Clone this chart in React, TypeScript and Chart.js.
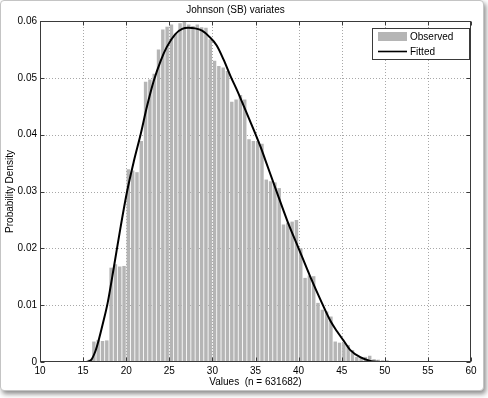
import React, { useEffect, useRef } from 'react';
import { Chart, registerables } from 'chart.js';

Chart.register(...registerables);

// ---- Data ----
const binCenters: number[] = [
  15.75, 16.25, 16.75, 17.25, 17.75, 18.25, 18.75, 19.25, 19.75, 20.25,
  20.75, 21.25, 21.75, 22.25, 22.75, 23.25, 23.75, 24.25, 24.75, 25.25,
  25.75, 26.25, 26.75, 27.25, 27.75, 28.25, 28.75, 29.25, 29.75, 30.25,
  30.75, 31.25, 31.75, 32.25, 32.75, 33.25, 33.75, 34.25, 34.75, 35.25,
  35.75, 36.25, 36.75, 37.25, 37.75, 38.25, 38.75, 39.25, 39.75, 40.25,
  40.75, 41.25, 41.75, 42.25, 42.75, 43.25, 43.75, 44.25, 44.75, 45.25,
  45.75, 46.25, 46.75, 47.25, 47.75, 48.25, 48.75, 49.25, 49.75, 50.25,
];

const observedDensity: number[] = [
  0.0004, 0.0036, 0.0039, 0.0037, 0.0038, 0.0166, 0.0172, 0.0168, 0.0169, 0.0339,
  0.0337, 0.0334, 0.0389, 0.0493, 0.0497, 0.0507, 0.0550, 0.0585, 0.0590, 0.0594,
  0.0577, 0.0596, 0.0600, 0.0594, 0.0591, 0.0594, 0.0589, 0.0588, 0.0568, 0.0530,
  0.0521, 0.0518, 0.0512, 0.0458, 0.0462, 0.0470, 0.0462, 0.0392, 0.0389, 0.0388,
  0.0384, 0.0321, 0.0318, 0.0316, 0.0306, 0.0242, 0.0245, 0.0247, 0.0250, 0.0200,
  0.0148, 0.0152, 0.0151, 0.0104, 0.0092, 0.0089, 0.0080, 0.0036, 0.0034, 0.0034,
  0.0030, 0.0021, 0.0009, 0.0009, 0.0009, 0.0011, 0.0005, 0.0004, 0.0003, 0.0003,
];

const fittedX: number[] = [
  15.3, 15.9, 16.4, 16.8, 17.3, 17.85, 18.55, 19.3, 20.1, 20.9,
  21.7, 22.4, 23.2, 24.0, 24.7, 25.7, 26.5, 27.2, 28.0, 28.8,
  29.6, 30.5, 31.3, 32.1, 32.8, 33.4, 34.2, 35.0, 35.6, 36.1,
  37.4, 38.7, 40.0, 41.3, 42.7, 43.7, 44.45, 45.2, 46.0, 47.2,
  48.3, 49.5,
];

const fittedY: number[] = [
  0, 0.0003, 0.0018, 0.0038, 0.0068, 0.0104, 0.0165, 0.0233, 0.0300, 0.0354,
  0.0402, 0.0449, 0.0495, 0.0530, 0.0554, 0.0577, 0.0586, 0.0588, 0.0587, 0.0583,
  0.0573, 0.0557, 0.0532, 0.0503, 0.0480, 0.0459, 0.0430, 0.0401, 0.0378, 0.0357,
  0.0302, 0.0248, 0.0200, 0.0152, 0.0104, 0.0072, 0.0054, 0.0038, 0.0021, 0.0008,
  0.0002, 0,
];

const xTicks: number[] = [10, 15, 20, 25, 30, 35, 40, 45, 50, 55, 60];
const yTicks: number[] = [0, 0.01, 0.02, 0.03, 0.04, 0.05, 0.06];

const titleText = 'Johnson (SB) variates';
const xTitle = 'Values  (n = 631682)';
const yTitle = 'Probability Density';
const legendLabels: string[] = ['Observed', 'Fitted'];

const FONT = '"Liberation Sans", Arial, Helvetica, sans-serif';
const BAR_COLOR = '#b5b5b5';

const matlabAxesPlugin = {
  id: 'matlabAxes',
  beforeDatasetsDraw(chart: any) {
    const { ctx, chartArea, scales } = chart;
    const { left, right, top, bottom } = chartArea;
    const xs = scales.x;
    const ys = scales.y;
    ctx.save();
    ctx.strokeStyle = '#a8a8a8';
    ctx.lineWidth = 1;
    ctx.setLineDash([1, 2]);
    xTicks.forEach((v, i) => {
      if (i === 0 || i === xTicks.length - 1) return;
      const px = Math.round(xs.getPixelForValue(v)) + 0.5;
      ctx.beginPath();
      ctx.moveTo(px, top);
      ctx.lineTo(px, bottom);
      ctx.stroke();
    });
    yTicks.forEach((v, i) => {
      if (i === 0 || i === yTicks.length - 1) return;
      const py = Math.round(ys.getPixelForValue(v)) + 0.5;
      ctx.beginPath();
      ctx.moveTo(left, py);
      ctx.lineTo(right, py);
      ctx.stroke();
    });
    ctx.restore();
  },
  afterDraw(chart: any) {
    const { ctx, chartArea, scales } = chart;
    const xs = scales.x;
    const ys = scales.y;
    const L = Math.round(chartArea.left) + 0.5;
    const R = Math.round(chartArea.right) - 0.5;
    const T = Math.round(chartArea.top) + 0.5;
    const B = Math.round(chartArea.bottom) - 0.5;
    ctx.save();
    ctx.setLineDash([]);
    ctx.strokeStyle = '#3a3a3a';
    ctx.lineWidth = 1;
    ctx.strokeRect(L, T, R - L, B - T);
    const tl = 4;
    xTicks.forEach((v) => {
      const px = Math.round(xs.getPixelForValue(v)) + 0.5;
      ctx.beginPath();
      ctx.moveTo(px, B);
      ctx.lineTo(px, B - tl);
      ctx.moveTo(px, T);
      ctx.lineTo(px, T + tl);
      ctx.stroke();
    });
    yTicks.forEach((v) => {
      const py = Math.round(ys.getPixelForValue(v)) + 0.5;
      ctx.beginPath();
      ctx.moveTo(L, py);
      ctx.lineTo(L + tl, py);
      ctx.moveTo(R, py);
      ctx.lineTo(R - tl, py);
      ctx.stroke();
    });

    // legend box (inside the plot, top right)
    const lw = 97;
    const lh = 31;
    const lx = Math.round(chartArea.right) - 99 + 0.5;
    const ly = Math.round(chartArea.top) + 7 + 0.5;
    ctx.fillStyle = '#ffffff';
    ctx.fillRect(lx, ly, lw, lh);
    ctx.strokeStyle = '#3a3a3a';
    ctx.strokeRect(lx, ly, lw, lh);
    ctx.fillStyle = BAR_COLOR;
    ctx.fillRect(lx + 5.5, ly + 3.5, 29, 9);
    ctx.strokeStyle = '#000';
    ctx.lineWidth = 1.6;
    ctx.beginPath();
    ctx.moveTo(lx + 5.5, ly + 23);
    ctx.lineTo(lx + 34.5, ly + 23);
    ctx.stroke();
    ctx.fillStyle = '#000';
    ctx.font = `10px ${FONT}`;
    ctx.textBaseline = 'middle';
    ctx.textAlign = 'left';
    ctx.fillText(legendLabels[0], lx + 37.5, ly + 8.5);
    ctx.fillText(legendLabels[1], lx + 37.5, ly + 23.5);
    ctx.restore();
  },
};

export default function App() {
  const canvasRef = useRef<HTMLCanvasElement | null>(null);

  useEffect(() => {
    if (!canvasRef.current) return;
    const chart = new Chart(canvasRef.current, {
      type: 'bar',
      data: {
        datasets: [
          {
            type: 'bar',
            label: legendLabels[0],
            data: binCenters.map((x, i) => ({ x, y: observedDensity[i] })),
            backgroundColor: BAR_COLOR,
            borderWidth: 0,
            barPercentage: 0.8,
            categoryPercentage: 1,
            grouped: false,
            order: 2,
          } as any,
          {
            type: 'line',
            label: legendLabels[1],
            data: fittedX.map((x, i) => ({ x, y: fittedY[i] })),
            borderColor: '#000000',
            borderWidth: 2,
            pointRadius: 0,
            fill: false,
            cubicInterpolationMode: 'monotone',
            order: 1,
          } as any,
        ],
      },
      options: {
        animation: false,
        responsive: false,
        devicePixelRatio: 1,
        layout: { padding: { left: 0, right: 17, top: 0, bottom: 10 } },
        plugins: {
          legend: { display: false },
          tooltip: { enabled: false },
          title: {
            display: true,
            text: titleText,
            color: '#000',
            font: { family: FONT, size: 10, weight: 'normal' },
            padding: { top: 4, bottom: 5 },
          },
        },
        scales: {
          x: {
            type: 'linear',
            min: 10,
            max: 60,
            offset: false,
            grid: { display: false, drawTicks: false, tickLength: 0 },
            border: { display: false },
            afterBuildTicks: (s: any) => {
              s.ticks = xTicks.map((v) => ({ value: v }));
            },
            afterFit: (s: any) => {
              s.height = 26;
            },
            ticks: {
              color: '#000',
              font: { family: FONT, size: 10 },
              padding: 3,
              maxRotation: 0,
              autoSkip: false,
              callback: (v: any) => String(v),
            },
            title: {
              display: true,
              text: xTitle,
              color: '#000',
              font: { family: FONT, size: 10 },
              padding: { top: 0, bottom: 0 },
            },
          },
          y: {
            type: 'linear',
            min: 0,
            max: 0.06,
            grid: { display: false, drawTicks: false, tickLength: 0 },
            border: { display: false },
            afterBuildTicks: (s: any) => {
              s.ticks = yTicks.map((v) => ({ value: v }));
            },
            afterFit: (s: any) => {
              s.width = 40;
            },
            ticks: {
              color: '#000',
              font: { family: FONT, size: 10 },
              padding: 3,
              autoSkip: false,
              callback: (v: any) => (Number(v) === 0 ? '0' : Number(v).toFixed(2)),
            },
            title: {
              display: true,
              text: yTitle,
              color: '#000',
              font: { family: FONT, size: 10 },
              padding: { top: 4, bottom: 0 },
            },
          },
        },
      } as any,
      plugins: [matlabAxesPlugin],
    });
    return () => chart.destroy();
  }, []);

  return (
    <div style={{ position: 'absolute', left: 0, top: 0, width: 488, height: 398, background: '#fff' }}>
      <div
        style={{
          position: 'absolute',
          left: 0,
          top: 0,
          width: 482,
          height: 389,
          border: '1px solid #c4c4c4',
          borderRadius: 4,
          boxShadow: '2px 3px 5px rgba(0,0,0,0.45)',
          background: '#fff',
        }}
      />
      <canvas
        ref={canvasRef}
        width={488}
        height={398}
        style={{ position: 'absolute', left: 0, top: 0, width: 488, height: 398 }}
      />
    </div>
  );
}
